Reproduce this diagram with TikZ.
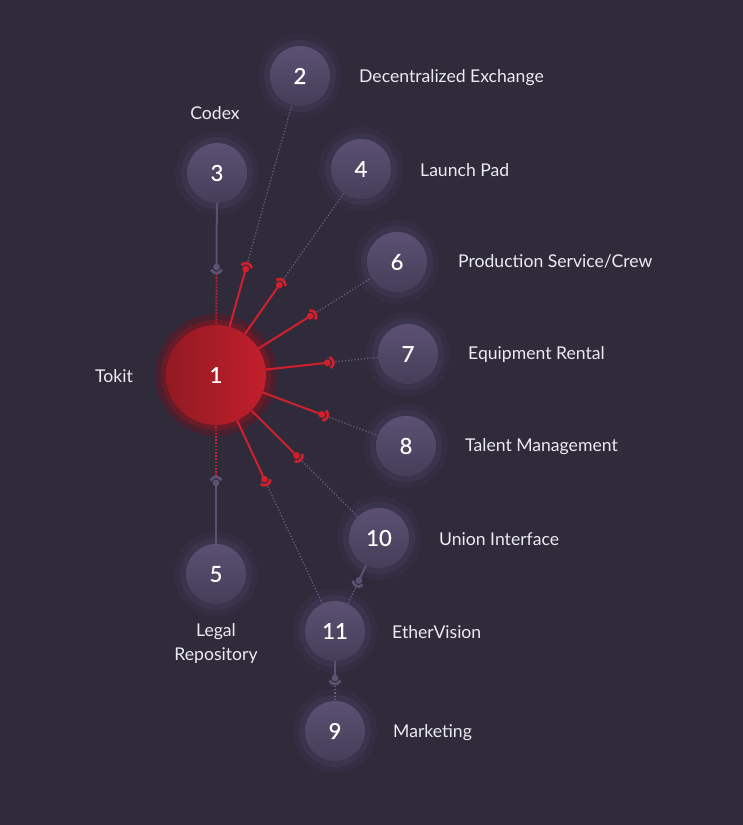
\documentclass[tikz,border=0pt]{standalone}
\usepackage{fontspec}
\setmainfont{Lato}
\newfontfamily\numfont[FakeBold=0.7]{Lato}
\usetikzlibrary{calc,decorations.markings}
\pgfdeclarelayer{background layer}
\pgfsetlayers{background layer,main}
\definecolor{bgcol}{HTML}{302B3B}
\definecolor{hubleft}{HTML}{921A22}
\definecolor{hubright}{HTML}{C21F2B}
\definecolor{hubringa}{HTML}{6A1B28}
\definecolor{hubringb}{HTML}{4A1F2E}
\definecolor{sattop}{HTML}{5B5072}
\definecolor{satbot}{HTML}{463E59}
\definecolor{satringa}{HTML}{3B344D}
\definecolor{satringb}{HTML}{342E42}
\definecolor{linered}{HTML}{D0202E}
\definecolor{linegray}{HTML}{5A5270}
\definecolor{dotgray}{HTML}{6A6282}
\definecolor{txtcol}{HTML}{ECEAF1}
\tikzstyle{hub}=[circle,inner sep=0pt,minimum size=100pt,left color=hubleft,right color=hubright,text=white,font=\numfont\fontsize{22}{22}\selectfont]
\tikzstyle{sat}=[circle,inner sep=0pt,minimum size=60pt,top color=sattop,bottom color=satbot,text=white,font=\numfont\fontsize{22}{22}\selectfont]
\tikzstyle{caption}=[text=txtcol,inner sep=0pt,font=\fontsize{17.6}{24}\selectfont]
\tikzstyle{redline}=[draw=linered,line width=2pt]
\tikzstyle{grayline}=[draw=linegray,line width=2pt]
\tikzstyle{reddots}=[draw=linered,line width=1.8pt,dash pattern=on 1.6pt off 1.6pt,shorten <=7pt]
\tikzstyle{graydots}=[draw=dotgray,line width=1.2pt,dash pattern=on 1.2pt off 2pt,shorten <=8pt]
\tikzset{endmark/.style={postaction={decorate},decoration={markings,mark=at position 0.9999 with {
  \fill[#1] (0,0) circle (3.4pt);
  \draw[#1,solid,line width=2.7pt] (-64:6pt) arc[start angle=-64,end angle=64,radius=6pt];}}}}

\begin{document}
\begin{tikzpicture}[x=1pt,y=1pt]
			\useasboundingbox (0,0) rectangle (743,825);
			\node (n1) at (216,450) [hub] {1};
			\node (n2) at (300,749) [sat] {2};
			\node (n3) at (217,652) [sat] {3};
			\node (n4) at (361,656) [sat] {4};
			\node (n6) at (397,563) [sat] {6};
			\node (n7) at (408,471) [sat] {7};
			\node (n8) at (406,379) [sat] {8};
			\node (n10) at (379,287) [sat] {10};
			\node (n11) at (335,194) [sat] {11};
			\node (n5) at (216,251) [sat] {5};
			\node (n9) at (335,94) [sat] {9};
			% captions
			\node (t1) at (114,449) [caption] {Tokit};
			\node (t2) at (359,747) [caption,anchor=west] {Decentralized Exchange};
			\node (t3) at (215,712) [caption] {Codex};
			\node (t4) at (420,655) [caption,anchor=west] {Launch Pad};
			\node (t6) at (458,564) [caption,anchor=west] {Production Service/Crew};
			\node (t7) at (468,470) [caption,anchor=west] {Equipment Rental};
			\node (t8) at (465,378) [caption,anchor=west] {Talent Management};
			\node (t10) at (439,286) [caption,anchor=west] {Union Interface};
			\node (t11) at (392,193) [caption,anchor=west] {EtherVision};
			\node (t9) at (393,92) [caption,anchor=west] {Marketing};
			\node (t5) at (216,181) [caption,align=center] {Legal\\Repository};
			\begin{pgfonlayer}{background layer}
				\fill[bgcol] (0,0) rectangle (743,825);
				\fill[hubringb] (n1) circle (61pt);
				\fill[hubringa] (n1) circle (55pt);
				\foreach \n in {2,3,4,5,6,7,8,9,10,11} {
					\fill[satringb] (n\n) circle (42pt);
					\fill[satringa] (n\n) circle (36pt);
				}
				\coordinate (m2) at ($(n1)!110pt!(n2)$);
				\coordinate (m4) at ($(n1)!110pt!(n4)$);
				\coordinate (m6) at ($(n1)!111pt!(n6)$);
				\coordinate (m7) at ($(n1)!112pt!(n7)$);
				\coordinate (m8) at ($(n1)!113pt!(n8)$);
				\coordinate (m10) at ($(n1)!114pt!(n10)$);
				\coordinate (m11) at ($(n1)!115pt!(n11)$);
				\coordinate (m3) at ($(n1)!108pt!(n3)$);
				\coordinate (m5) at ($(n1)!108pt!(n5)$);
				\coordinate (m12) at ($(n10)!47pt!(n11)$);
				\coordinate (m13) at ($(n11)!47pt!(n9)$);
				\draw[redline,endmark=linered] (n1)--(m2);
				\draw[graydots] (m2)--(n2);
				\draw[redline,endmark=linered] (n1)--(m4);
				\draw[graydots] (m4)--(n4);
				\draw[redline,endmark=linered] (n1)--(m6);
				\draw[graydots] (m6)--(n6);
				\draw[redline,endmark=linered] (n1)--(m7);
				\draw[graydots] (m7)--(n7);
				\draw[redline,endmark=linered] (n1)--(m8);
				\draw[graydots] (m8)--(n8);
				\draw[redline,endmark=linered] (n1)--(m10);
				\draw[graydots] (m10)--(n10);
				\draw[redline,endmark=linered] (n1)--(m11);
				\draw[graydots] (m11)--(n11);
				\draw[grayline,endmark=linegray] (n3)--(m3);
				\draw[reddots] (m3)--(n1);
				\draw[grayline,endmark=linegray] (n5)--(m5);
				\draw[reddots] (m5)--(n1);
				\draw[grayline,endmark=linegray] (n10)--(m12);
				\draw[graydots] (m12)--(n11);
				\draw[grayline,endmark=linegray] (n11)--(m13);
				\draw[graydots] (m13)--(n9);
			\end{pgfonlayer}
		\end{tikzpicture}
\end{document}
